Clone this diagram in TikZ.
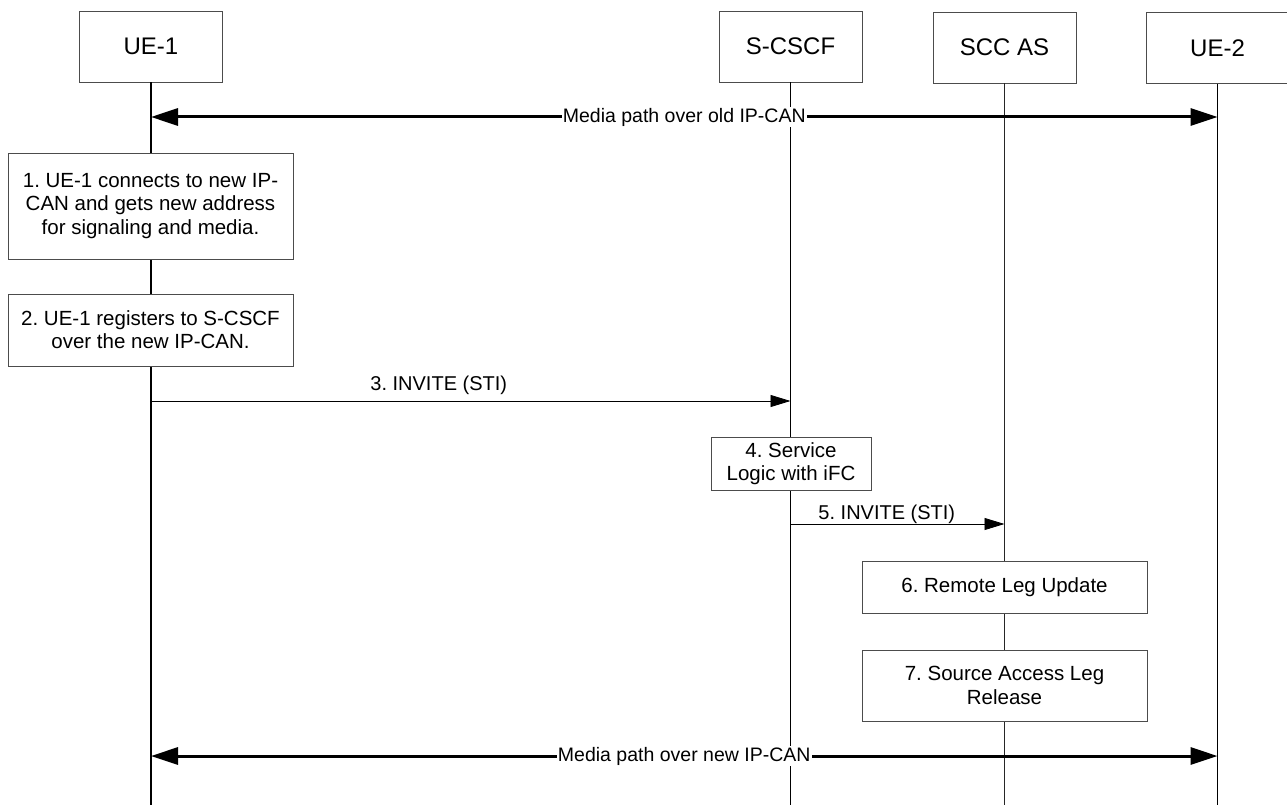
\documentclass[tikz,border=0pt]{standalone}
\usepackage{fontspec}
\setmainfont{Liberation Sans}
\frenchspacing
\tikzset{>=latex}
\usetikzlibrary{positioning,arrows.meta}

\tikzset{
  entity/.style={rectangle, draw=black!70, fill=white, minimum width=143pt, minimum height=71pt, font=\fontsize{24}{28}\selectfont},
  stepbox/.style={rectangle, draw=black!70, fill=white, align=center, minimum width=285pt, font=\fontsize{20.5}{23.3}\selectfont},
  lifeline/.style={line width=1.3pt},
  media/.style={line width=3pt, {Triangle[length=27pt,width=17pt]}-{Triangle[length=27pt,width=17pt]}},
  medialabel/.style={fill=white, inner sep=1pt, font=\fontsize{19.5}{22}\selectfont},
  msg/.style={line width=0.9pt, -{Triangle[length=20pt,width=12pt]}},
  msglabel/.style={above, inner sep=0pt, font=\fontsize{20}{23}\selectfont}
}

\begin{document}
\begin{tikzpicture}[x=1pt, y=-1pt]
      \useasboundingbox (0,0) rectangle (1287,805);
      \coordinate (bottom) at (0,805);
      % entities
      \node[entity] (ue1) at (151,46.5) {UE-1};
      \node[entity] (scscf) at (790.5,46.5) {S-CSCF};
      \node[entity] (sccas) at (1004.5,47.5) {SCC AS};
      \node[entity] (ue2) at (1217.5,48) {UE-2};
      % lifelines
      \draw[lifeline] (ue1.south) -- (ue1 |- bottom);
      \draw[lifeline] (scscf.south) -- (scscf |- bottom);
      \draw[line width=1pt, black!85] (sccas.south) -- (sccas |- bottom);
      \draw[lifeline] (ue2.south) -- (ue2 |- bottom);
      % media over old IP-CAN
      \draw[media] (ue1 |- 0,117) -- node[medialabel] (oldpath) {Media path over old IP-CAN} (ue2 |- 0,117);
      % steps 1 and 2
      \node[stepbox, minimum height=106pt] (step1) at (150.5,206) {1. UE-1 connects to new IP-\\CAN and gets new address\\for signaling and media.};
      \node[stepbox, minimum height=72pt] (step2) at (150.5,330) {2. UE-1 registers to S-CSCF\\over the new IP-CAN.};
      % INVITE to S-CSCF
      \draw[msg] (ue1 |- 0,401) -- node[msglabel, pos=0.45, yshift=6pt] (invite3) {3. INVITE (STI)} (scscf |- 0,401);
      \node[stepbox, minimum width=160pt, minimum height=53pt] (step4) at (791,463.5) {4. Service\\Logic with iFC};
      % INVITE to SCC AS
      \draw[msg] (scscf |- 0,524) -- node[msglabel, pos=0.45] (invite5) {5. INVITE (STI)} (sccas |- 0,524);
      \node[stepbox, minimum height=52pt] (step6) at (1004.5,587) {6. Remote Leg Update};
      \node[stepbox, minimum height=71pt] (step7) at (1004.5,685.5) {7. Source Access Leg\\Release};
      % media over new IP-CAN
      \draw[media] (ue1 |- 0,756) -- node[medialabel] (newpath) {Media path over new IP-CAN} (ue2 |- 0,756);
    \end{tikzpicture}
\end{document}
